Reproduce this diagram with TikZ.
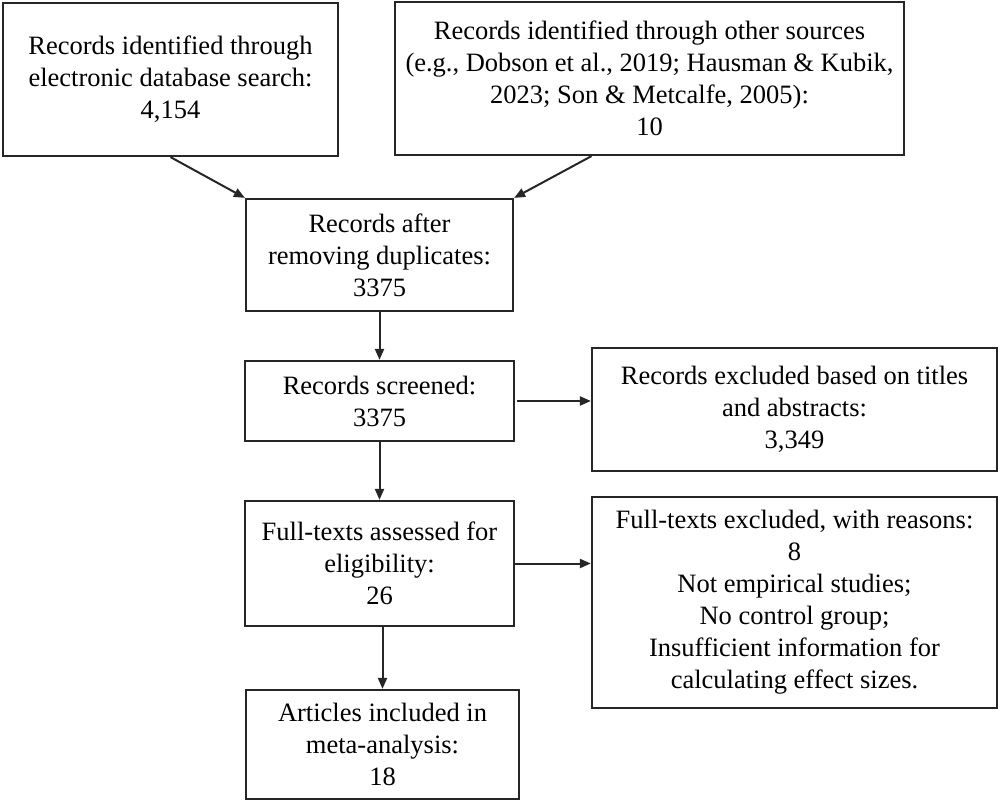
\documentclass[tikz,border=0pt]{standalone}
\usepackage{fontspec}
\setmainfont{Liberation Serif}
\usetikzlibrary{arrows.meta,calc}
\begin{document}
\begin{tikzpicture}[x=1pt,y=-1pt,
  box/.style={draw=black!85,line width=2.2pt,rectangle,inner sep=0pt,align=center,
    font=\fontsize{26.5}{32}\selectfont,text=black},
  conn/.style={line width=2pt,draw=black!85,-{Triangle[length=11pt,width=9pt]}}]
\useasboundingbox (0,0) rectangle (1000,802);
\node[box,minimum width=335pt,minimum height=153pt] (b1) at (170.5,79.5)
  {Records identified through\\electronic database search:\\4,154};
\node[box,minimum width=509pt,minimum height=153pt] (b2) at (649.5,78.5)
  {Records identified through other sources\\(e.g., Dobson et al., 2019; Hausman \& Kubik,\\2023; Son \& Metcalfe, 2005):\\10};
\node[box,minimum width=267pt,minimum height=112pt] (b3) at (379.5,255)
  {Records after\\removing duplicates:\\3375};
\node[box,minimum width=269pt,minimum height=80pt] (b4) at (379.5,401)
  {Records screened:\\3375};
\node[box,minimum width=405pt,minimum height=123pt] (b5) at (794.5,409.5)
  {Records excluded based on titles\\and abstracts:\\3,349};
\node[box,minimum width=269pt,minimum height=125pt] (b6) at (379.5,563.5)
  {Full-texts assessed for\\eligibility:\\26};
\node[box,minimum width=405pt,minimum height=211pt] (b7) at (794.5,602.5)
  {Full-texts excluded, with reasons:\\8\\Not empirical studies;\\No control group;\\Insufficient information for\\calculating effect sizes.};
\node[box,minimum width=273pt,minimum height=109pt] (b8) at (382.5,744.5)
  {Articles included in\\meta-analysis:\\18};
\coordinate (a2s) at ($(b2.south)+(-58,0)$);
\draw[conn] (b1.south) -- (b3.north west);
\draw[conn] (a2s) -- (b3.north east);
\draw[conn] (b3.south) -- (b4.north);
\draw[conn] ($(b4.east)+(2,0)$) -- (b4.east -| b5.west);
\draw[conn] (b4.south) -- (b6.north);
\draw[conn] (b6.east) -- (b6.east -| b7.west);
\draw[conn] (b6.south -| b8.north) -- (b8.north);
\end{tikzpicture}
\end{document}
